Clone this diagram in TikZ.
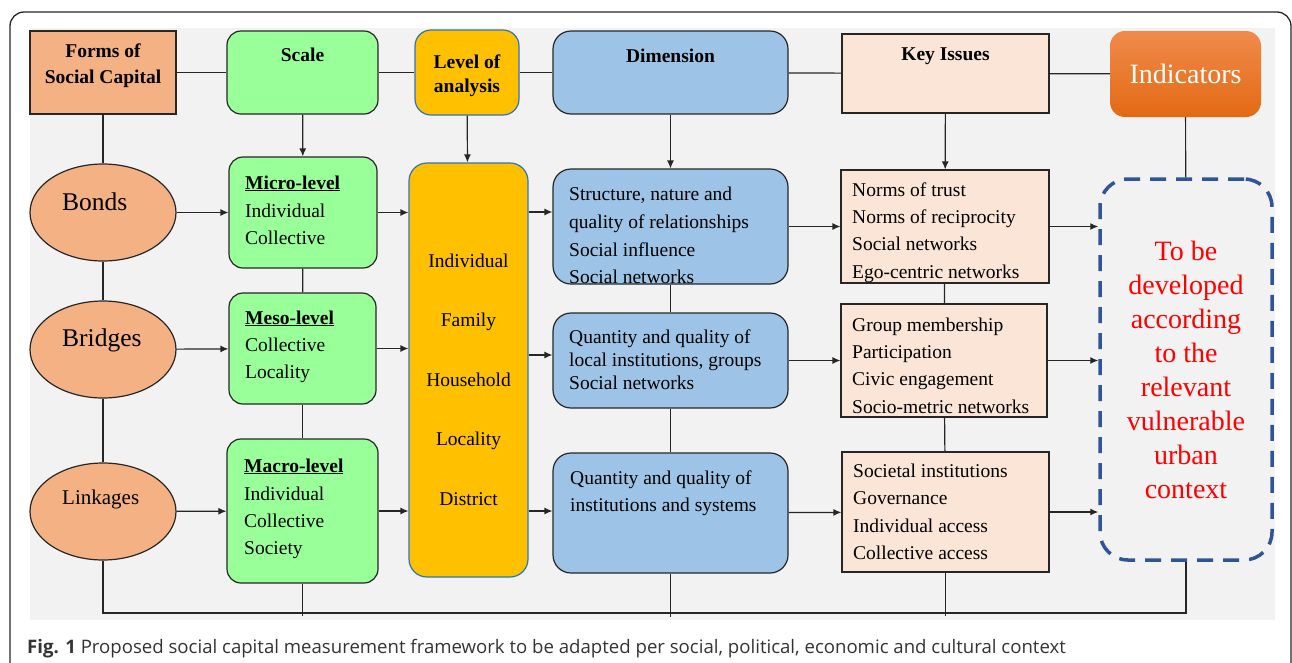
\documentclass[tikz,border=0pt]{standalone}
\usepackage{fontspec}
\setmainfont{Liberation Serif}
\newfontfamily\capfont{Open Sans}
\usetikzlibrary{arrows.meta,fit,shapes.geometric}
\definecolor{bggray}{HTML}{F2F2F2}
\definecolor{salmon}{HTML}{F4B183}
\definecolor{lgreen}{HTML}{99FF99}
\definecolor{gold}{HTML}{FFC000}
\definecolor{lblue}{HTML}{9DC3E6}
\definecolor{peach}{HTML}{FBE5D6}
\definecolor{linec}{HTML}{262626}
\definecolor{bordblue}{HTML}{2E75B6}
\definecolor{dashblue}{HTML}{2F5597}
\definecolor{orangetop}{HTML}{F08A4B}
\definecolor{orangebot}{HTML}{E36A14}
\definecolor{capgray}{HTML}{333333}
\begin{document}
\begin{tikzpicture}[x=1pt,y=-1pt,
  base/.style={draw=linec, line width=1.2pt, inner sep=0pt},
  salbox/.style={base, fill=salmon},
  gbox/.style={base, fill=lgreen, rounded corners=14pt},
  ybox/.style={base, draw=bordblue, fill=gold, rounded corners=16pt},
  bbox/.style={base, fill=lblue, rounded corners=18pt},
  pbox/.style={base, fill=peach},
  ell/.style={base, ellipse, fill=salmon, minimum width=146pt, minimum height=97pt},
  conn/.style={draw=linec, line width=1.2pt},
  arr/.style={conn, -{Latex[length=8pt,width=7pt]}},
  tx/.style={inner sep=0pt, anchor=base west, font=\fontsize{19.5}{24}\selectfont, text=black},
  txc/.style={tx, anchor=base},
  hd/.style={txc, font=\fontsize{19.5}{24}\selectfont\bfseries},
  big/.style={inner sep=0pt, anchor=base west, font=\fontsize{25.5}{30}\selectfont},
  red/.style={inner sep=0pt, anchor=base, font=\fontsize{28}{34}\selectfont, text=red}
]
\useasboundingbox (0,0) rectangle (1292,662);
% frame and panel
\draw[line width=1.3pt, draw=linec, rounded corners=14pt] (10,670) -- (10,12) -- (1291,12) -- (1291,670);
\fill[bggray] (30,28) rectangle (1275,620);

% top row
\node[salbox, fit={(30,31) (176,114)}] (forms) {};
\node[gbox, fit={(227,31) (378,114)}] (scale) {};
\node[ybox, fit={(415,30) (519,115)}] (level) {};
\node[bbox, fit={(553,31) (788,114)}] (dim) {};
\node[pbox, fit={(842,34) (1049,113)}] (key) {};
\node[inner sep=0pt, rounded corners=15pt, top color=orangetop, bottom color=orangebot, fit={(1110,31) (1261,117)}] (ind) {};

\node[hd] (formsT1) at (103,57) {Forms of};
\node[hd] (formsT2) at (103,83) {Social Capital};
\node[hd] (scaleT) at (302.5,61) {Scale};
\node[hd] (levelT1) at (467,68) {Level of};
\node[hd] (levelT2) at (467,92) {analysis};
\node[hd] (dimT) at (670.5,62) {Dimension};
\node[hd] (keyT) at (945.5,60) {Key Issues};
\node[inner sep=0pt, anchor=base, font=\fontsize{28}{30}\selectfont, text=white] (indT) at (1185.5,83) {Indicators};

% ellipses
\node[ell] (bonds) at (103,212.5) {};
\node[ell] (bridges) at (103,349.5) {};
\node[ell] (links) at (103,511.5) {};
\node[big] (bondsT) at (62,210) {Bonds};
\node[big] (bridgesT) at (62,346) {Bridges};
\node[big, font=\fontsize{21}{24}\selectfont] (linksT) at (62,504) {Linkages};

% scale boxes
\node[gbox, fit={(229,157) (377,268)}] (micro) {};
\node[gbox, fit={(229,293) (376,404)}] (meso) {};
\node[gbox, fit={(227,439) (378,583)}] (macro) {};
\node[tx, font=\fontsize{19.5}{24}\selectfont\bfseries] (microT) at (245,189) {\underline{Micro-level}};
\node[tx] (microA) at (245,217) {Individual};
\node[tx] (microB) at (245,244) {Collective};
\node[tx, font=\fontsize{19.5}{24}\selectfont\bfseries] (mesoT) at (245,324) {\underline{Meso-level}};
\node[tx] (mesoA) at (245,351) {Collective};
\node[tx] (mesoB) at (245,378) {Locality};
\node[tx, font=\fontsize{19.5}{24}\selectfont\bfseries] (macroT) at (244,472) {\underline{Macro-level}};
\node[tx] (macroA) at (244,500) {Individual};
\node[tx] (macroB) at (244,527) {Collective};
\node[tx] (macroC) at (244,554) {Society};

% level of analysis
\node[ybox, rounded corners=18pt, fit={(409,163) (528,577)}] (lev) {};
\node[txc] (levA) at (468.5,267) {Individual};
\node[txc] (levB) at (468.5,326) {Family};
\node[txc] (levC) at (468.5,386) {Household};
\node[txc] (levD) at (468.5,445) {Locality};
\node[txc] (levE) at (468.5,505) {District};

% dimension boxes
\node[bbox, fit={(553,169) (788,284)}] (d1) {};
\node[bbox, fit={(553,313) (788,408)}] (d2) {};
\node[bbox, fit={(553,453) (788,573)}] (d3) {};
\node[tx] (d1A) at (569,200) {Structure, nature and};
\node[tx] (d1B) at (569,228) {quality of relationships};
\node[tx] (d1C) at (569,256) {Social influence};
\node[tx] (d1D) at (569,283) {Social networks};
\node[tx] (d2A) at (569,343) {Quantity and quality of};
\node[tx] (d2B) at (569,366) {local institutions, groups};
\node[tx] (d2C) at (569,389) {Social networks};
\node[tx] (d3A) at (570,484) {Quantity and quality of};
\node[tx] (d3B) at (570,511) {institutions and systems};

% key issue boxes
\node[pbox, fit={(841,170) (1049,283)}] (k1) {};
\node[pbox, fit={(841,304) (1047,417)}] (k2) {};
\node[pbox, fit={(842,452) (1049,572)}] (k3) {};
\node[tx] (k1A) at (852,196) {Norms of trust};
\node[tx] (k1B) at (852,223) {Norms of reciprocity};
\node[tx] (k1C) at (852,250) {Social networks};
\node[tx] (k1D) at (852,278) {Ego-centric networks};
\node[tx] (k2A) at (852,331) {Group membership};
\node[tx] (k2B) at (852,358) {Participation};
\node[tx] (k2C) at (852,385) {Civic engagement};
\node[tx] (k2D) at (852,413) {Socio-metric networks};
\node[tx] (k3A) at (853,477) {Societal institutions};
\node[tx] (k3B) at (853,504) {Governance};
\node[tx] (k3C) at (853,532) {Individual access};
\node[tx] (k3D) at (853,559) {Collective access};

% dashed indicator box
\node[inner sep=0pt, draw=dashblue, line width=3.5pt, dash pattern=on 16pt off 10pt, rounded corners=28pt, fit={(1100,179) (1272,560)}] (dash) {};
\foreach \t [count=\i] in {To be,developed,according,to the,relevant,vulnerable,urban,context}
  \node[red] (red\i) at (1186,{260+(\i-1)*34}) {\t};

% top connectors
\draw[conn] (forms) -- (scale);
\draw[conn] (scale) -- (level);
\draw[conn] (level) -- (dim);
\draw[conn] (dim) -- (key);
\draw[conn] (key) -- (ind);
\draw[conn] (forms) -- (bonds);
\draw[arr] (scale) -- (micro);
\draw[arr] (level) -- (lev);
\draw[arr] (dim) -- (d1);
\draw[arr] (key) -- (k1);
\draw[conn] (ind) -- (dash);

% verticals
\draw[conn] (bonds) -- (bridges);
\draw[conn] (bridges) -- (links);
\draw[conn] (micro) -- (meso);
\draw[conn] (meso) -- (macro);
\draw[conn] (d1) -- (d2);
\draw[conn] (d2) -- (d3);
\draw[conn] (k1) -- (k2);
\draw[conn] (k2) -- (k3);

% horizontals
\draw[arr] (bonds) -- (micro);
\draw[arr] (bridges) -- (meso);
\draw[arr] (links) -- (macro);
\draw[arr] (micro.east) -- (micro.east -| lev.west);
\draw[arr] (meso.east) -- (meso.east -| lev.west);
\draw[arr] (macro.east) -- (macro.east -| lev.west);
\coordinate (d1in) at ([yshift=14.5pt]d1.west);
\coordinate (d2in) at ([yshift=5.5pt]d2.west);
\coordinate (d3in) at ([yshift=2pt]d3.west);
\draw[arr] (d1in -| lev.east) -- (d1in);
\draw[arr] (d2in -| lev.east) -- (d2in);
\draw[arr] (d3in -| lev.east) -- (d3in);
\draw[arr] (d1) -- (k1);
\draw[arr] (d2) -- (k2);
\draw[arr] (d3) -- (k3);
\draw[arr] (k1.east) -- (k1.east -| dash.west);
\draw[arr] (k2.east) -- (k2.east -| dash.west);
\draw[arr] (k3.east) -- (k3.east -| dash.west);

% bottom loop
\coordinate (bl) at (103,613);
\coordinate (br) at (1186,613);
\draw[conn] (links) -- (bl) -- (br) -- (dash);
\draw[conn] (macro) -- ([yshift=-3pt]macro.south |- bl);
\draw[conn] (d3) -- ([yshift=-4pt]d3.south |- bl);
\draw[conn] (k3) -- ([yshift=-3pt]k3.south |- bl);

% caption
\node[inner sep=0pt, anchor=base west, font=\capfont\fontsize{18.6}{20}\selectfont, text=capgray] (cap) at (27,653) {\textbf{Fig. 1}\ Proposed social capital measurement framework to be adapted per social, political, economic and cultural context};
\end{tikzpicture}
\end{document}
